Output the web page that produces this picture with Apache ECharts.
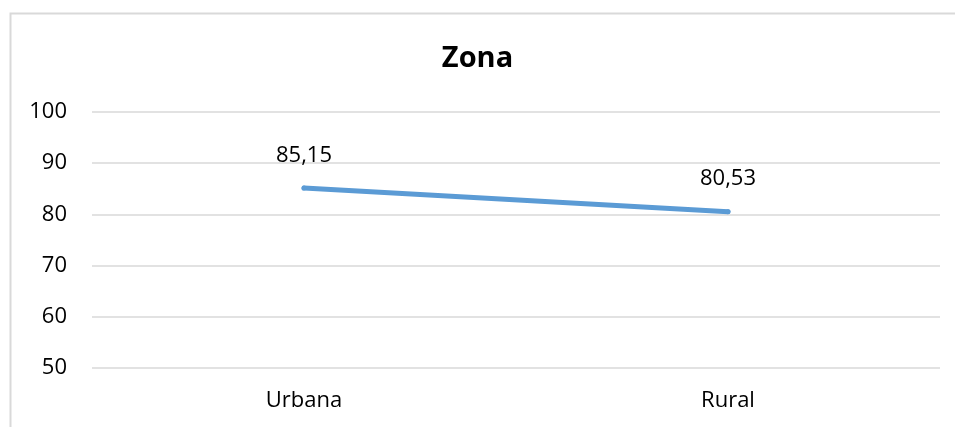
<!DOCTYPE html>
<html>
<head>
<meta charset="utf-8">
<script src="https://cdn.jsdelivr.net/npm/echarts@6/dist/echarts.min.js"></script>
<style>
  html, body { margin: 0; padding: 0; background: #fff; }
  #main { width: 955px; height: 427px; }
</style>
</head>
<body>
<div id="main"></div>
<script>
var categories = ['Urbana', 'Rural'];
var values = [85.15, 80.53];
var yTicks = [50, 60, 70, 80, 90, 100];

var chart = echarts.init(document.getElementById('main'));
var font = '"Open Sans", sans-serif';

var option = {
  animation: false,
  title: {
    text: 'Zona',
    left: 'center',
    top: 39,
    textStyle: { fontFamily: font, fontSize: 29, fontWeight: 'bold', color: '#000' }
  },
  graphic: [{
    type: 'rect',
    shape: { x: 10.5, y: 13.5, width: 1000, height: 500 },
    style: { fill: 'none', stroke: '#d9d9d9', lineWidth: 2 },
    silent: true
  }],
  grid: { left: 92, right: 15, top: 112, bottom: 59 },
  xAxis: {
    type: 'category',
    data: categories,
    boundaryGap: true,
    axisLine: { show: false },
    axisTick: { show: false },
    axisLabel: { fontFamily: font, fontSize: 22, color: '#000', margin: 22 }
  },
  yAxis: {
    type: 'value',
    min: yTicks[0],
    max: yTicks[yTicks.length - 1],
    interval: 10,
    axisLine: { show: false },
    axisTick: { show: false },
    axisLabel: { fontFamily: font, fontSize: 22, color: '#000', margin: 25 },
    splitLine: { lineStyle: { color: '#d9d9d9', width: 1.5 } }
  },
  series: [{
    type: 'line',
    data: values,
    symbol: 'circle',
    symbolSize: 5,
    showSymbol: true,
    itemStyle: { color: '#5b9bd5' },
    lineStyle: { color: '#5b9bd5', width: 5, cap: 'round' },
    label: {
      show: true,
      position: 'top',
      distance: 19,
      fontFamily: font,
      fontSize: 22,
      color: '#000',
      formatter: function (p) { return p.value.toFixed(2).replace('.', ','); }
    }
  }]
};
chart.setOption(option);
</script>
</body>
</html>
